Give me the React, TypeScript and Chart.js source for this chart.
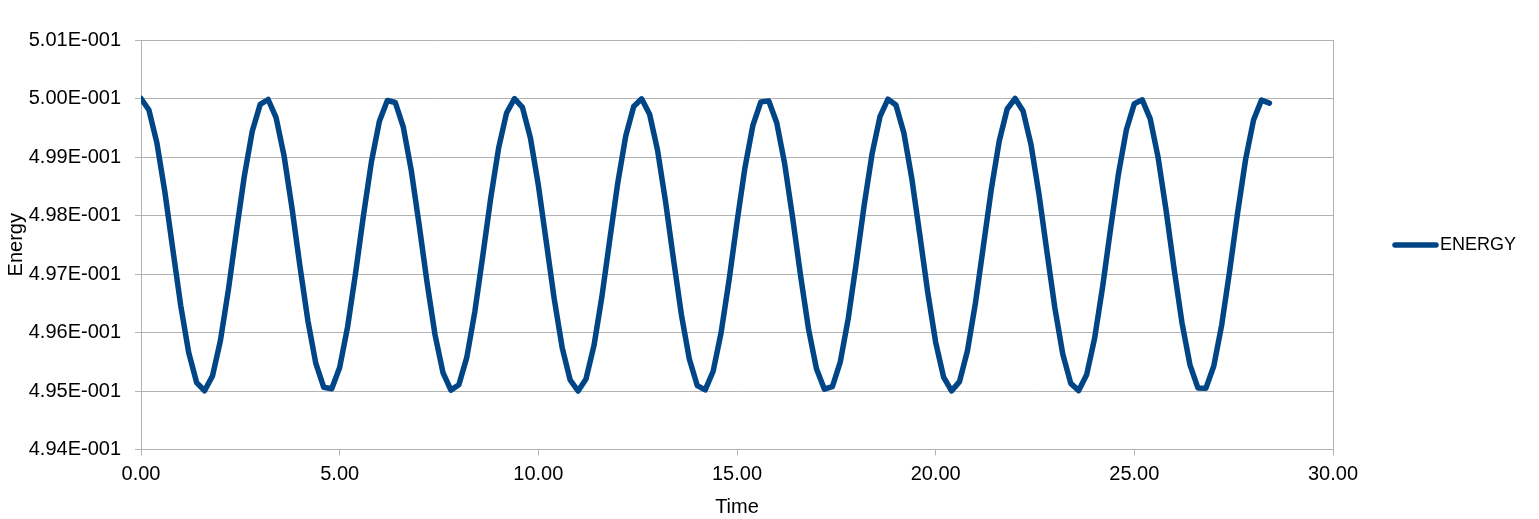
import React, { useEffect, useRef } from "react";
import { Chart, registerables } from "chart.js";

Chart.register(...registerables);

const seriesName = "ENERGY";
const xTitle = "Time";
const yTitle = "Energy";

const timeValues = [
  0.0, 0.2, 0.4, 0.6, 0.8, 1.0, 1.2, 1.4, 1.6, 1.8, 2.0, 2.2, 2.4, 2.6, 2.8, 3.0,
  3.2, 3.4, 3.6, 3.8, 4.0, 4.2, 4.4, 4.6, 4.8, 5.0, 5.2, 5.4, 5.6, 5.8, 6.0, 6.2,
  6.4, 6.6, 6.8, 7.0, 7.2, 7.4, 7.6, 7.8, 8.0, 8.2, 8.4, 8.6, 8.8, 9.0, 9.2, 9.4,
  9.6, 9.8, 10.0, 10.2, 10.4, 10.6, 10.8, 11.0, 11.2, 11.4, 11.6, 11.8, 12.0, 12.2, 12.4, 12.6,
  12.8, 13.0, 13.2, 13.4, 13.6, 13.8, 14.0, 14.2, 14.4, 14.6, 14.8, 15.0, 15.2, 15.4, 15.6, 15.8,
  16.0, 16.2, 16.4, 16.6, 16.8, 17.0, 17.2, 17.4, 17.6, 17.8, 18.0, 18.2, 18.4, 18.6, 18.8, 19.0,
  19.2, 19.4, 19.6, 19.8, 20.0, 20.2, 20.4, 20.6, 20.8, 21.0, 21.2, 21.4, 21.6, 21.8, 22.0, 22.2,
  22.4, 22.6, 22.8, 23.0, 23.2, 23.4, 23.6, 23.8, 24.0, 24.2, 24.4, 24.6, 24.8, 25.0, 25.2, 25.4,
  25.6, 25.8, 26.0, 26.2, 26.4, 26.6, 26.8, 27.0, 27.2, 27.4, 27.6, 27.8, 28.0, 28.2, 28.4,
];

const energyValues = [
  0.5, 0.499803, 0.499242, 0.498406, 0.497427, 0.49646, 0.495657, 0.495144, 0.495004, 0.495258, 0.495866, 0.496732, 0.497719, 0.498671, 0.499439, 0.4999,
  0.499983, 0.499674, 0.499021, 0.498128, 0.497136, 0.496202, 0.495472, 0.495063, 0.495038, 0.495402, 0.496098, 0.497014, 0.498008, 0.498921, 0.49961, 0.499966,
  0.499932, 0.499515, 0.498779, 0.497842, 0.496851, 0.495962, 0.495316, 0.495015, 0.495106, 0.495575, 0.496348, 0.497303, 0.498289, 0.499151, 0.499752, 0.499997,
  0.499848, 0.499329, 0.49852, 0.497551, 0.496574, 0.495743, 0.495189, 0.495, 0.495206, 0.495774, 0.496615, 0.497595, 0.49856, 0.499358, 0.499863, 0.499994,
  0.499732, 0.499117, 0.498247, 0.497259, 0.496309, 0.495547, 0.495093, 0.49502, 0.495338, 0.495997, 0.496893, 0.497886, 0.498817, 0.499541, 0.499942, 0.499958,
  0.499586, 0.498884, 0.497964, 0.496971, 0.496061, 0.495379, 0.495031, 0.495073, 0.495499, 0.49624, 0.49718, 0.498171, 0.499056, 0.499695, 0.499988, 0.499888,
  0.499411, 0.498632, 0.497675, 0.49669, 0.495833, 0.495239, 0.495002, 0.49516, 0.495687, 0.4965, 0.497471, 0.498447, 0.499273, 0.49982, 0.5, 0.499785,
  0.49921, 0.498365, 0.497383, 0.49642, 0.495627, 0.49513, 0.495007, 0.495278, 0.4959, 0.496774, 0.497763, 0.49871, 0.499467, 0.499912, 0.499977, 0.499651,
  0.498986, 0.498085, 0.497093, 0.496164, 0.495447, 0.495053, 0.495046, 0.495427, 0.496134, 0.497058, 0.498051, 0.498957, 0.499633, 0.499972, 0.499922,
];

const xTickValues = [0, 5, 10, 15, 20, 25, 30];
const xTickLabels = ["0.00", "5.00", "10.00", "15.00", "20.00", "25.00", "30.00"];
const yTickValues = [0.494, 0.495, 0.496, 0.497, 0.498, 0.499, 0.5, 0.501];
const yTickLabels = [
  "4.94E-001", "4.95E-001", "4.96E-001", "4.97E-001",
  "4.98E-001", "4.99E-001", "5.00E-001", "5.01E-001",
];

const LINE_COLOR = "#004586";
const GRID_COLOR = "#b3b3b3";
const FONT = "'Liberation Sans', Arial, sans-serif";
const LINE_WIDTH = 5.5;

const legendPlugin = {
  id: "customLegend",
  afterDraw(chart: any) {
    const ctx = chart.ctx;
    const area = chart.chartArea;
    const cy = Math.round((area.top + area.bottom) / 2);
    ctx.save();
    ctx.strokeStyle = LINE_COLOR;
    ctx.lineWidth = LINE_WIDTH;
    ctx.lineCap = "round";
    ctx.beginPath();
    ctx.moveTo(area.right + 62, cy);
    ctx.lineTo(area.right + 103, cy);
    ctx.stroke();
    ctx.fillStyle = "#000000";
    ctx.font = `18px ${FONT}`;
    ctx.textBaseline = "middle";
    ctx.textAlign = "left";
    ctx.fillText(seriesName, area.right + 107, cy);
    ctx.restore();
  },
};

export default function App() {
  const canvasRef = useRef<HTMLCanvasElement | null>(null);

  useEffect(() => {
    if (!canvasRef.current) return;
    const points = timeValues.map((t, i) => ({ x: t, y: energyValues[i] }));
    const chart = new Chart(canvasRef.current, {
      type: "line",
      data: {
        datasets: [
          {
            label: seriesName,
            data: points,
            borderColor: LINE_COLOR,
            backgroundColor: LINE_COLOR,
            borderWidth: LINE_WIDTH,
            borderJoinStyle: "round",
            borderCapStyle: "round",
            pointRadius: 0,
            tension: 0,
            fill: false,
          },
        ],
      },
      options: {
        responsive: false,
        animation: false,
        layout: { padding: { top: 40, right: 206, bottom: 0, left: 0 } },
        plugins: {
          legend: { display: false },
          tooltip: { enabled: false },
        },
        scales: {
          x: {
            type: "linear",
            min: 0,
            max: 30,
            afterBuildTicks: (scale: any) => {
              scale.ticks = xTickValues.map((v) => ({ value: v }));
            },
            afterFit: (scale: any) => {
              scale.height = 69.5;
            },
            ticks: {
              color: "#000000",
              font: { family: FONT, size: 20 },
              padding: 7,
              maxRotation: 0,
              autoSkip: false,
              callback: (_v: any, i: number) => xTickLabels[i],
            },
            grid: {
              color: (c: any) => (c.tick && c.tick.value === 30 ? GRID_COLOR : "rgba(0,0,0,0)"),
              tickColor: GRID_COLOR,
              tickLength: 6,
              lineWidth: 1,
            },
            border: { display: true, color: GRID_COLOR },
            title: {
              display: true,
              text: xTitle,
              color: "#000000",
              font: { family: FONT, size: 20 },
              padding: { top: 2, bottom: 0 },
            },
          },
          y: {
            type: "linear",
            min: 0.494,
            max: 0.501,
            afterBuildTicks: (scale: any) => {
              scale.ticks = yTickValues.map((v) => ({ value: v }));
            },
            afterFit: (scale: any) => {
              scale.width = 141;
            },
            ticks: {
              color: "#000000",
              font: { family: FONT, size: 20 },
              padding: 14,
              autoSkip: false,
              callback: (_v: any, i: number) => yTickLabels[i],
            },
            grid: {
              color: GRID_COLOR,
              tickColor: GRID_COLOR,
              tickLength: 6,
              lineWidth: 1,
            },
            border: { display: true, color: GRID_COLOR },
            title: {
              display: true,
              text: yTitle,
              color: "#000000",
              font: { family: FONT, size: 20 },
              padding: { top: 4, bottom: 0 },
            },
          },
        },
      },
      plugins: [legendPlugin],
    });
    return () => chart.destroy();
  }, []);

  return (
    <div style={{ position: "absolute", left: 0, top: 0, width: 1539, height: 519, background: "#ffffff" }}>
      <canvas ref={canvasRef} width={1539} height={519} style={{ display: "block" }} />
    </div>
  );
}
